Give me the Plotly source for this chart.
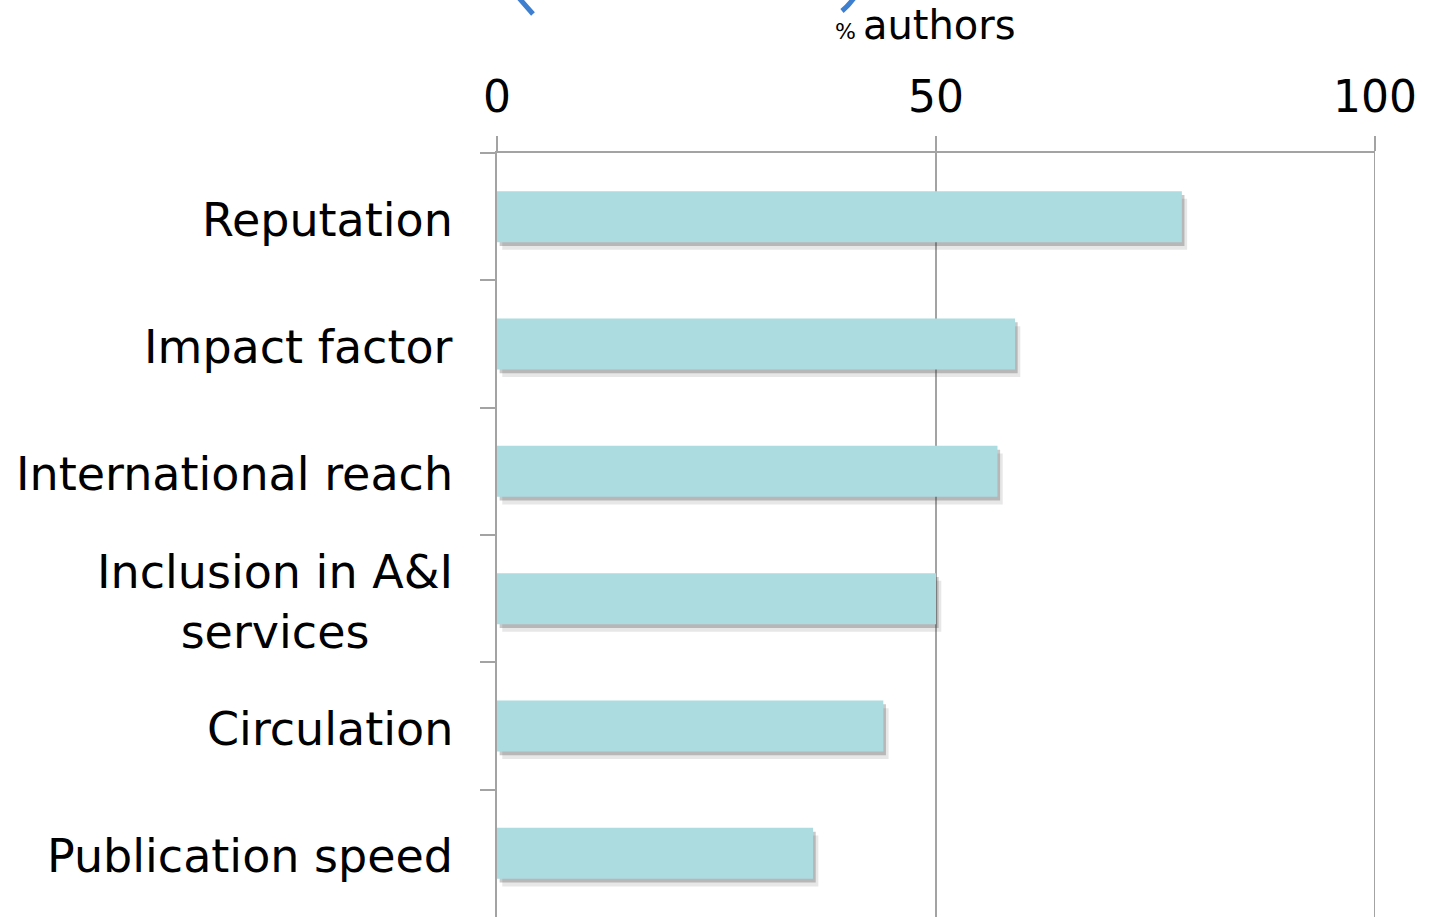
import plotly.graph_objects as go

# Survey: reasons authors choose a journal (% of authors)
categories = [
    "Reputation",
    "Impact factor",
    "International reach",
    "Inclusion in A&I<br>services",
    "Circulation",
    "Publication speed",
]
pct_authors = [78, 59, 57, 50, 44, 36]
x_ticks = [0, 50, 100]

FONT = "DejaVu Sans"
BAR = "#acdbe0"
AXIS = "#a3a3a3"

W, H = 1429, 917
L, R, T, B = 497, 54, 153, 0

fig = go.Figure()

# soft drop shadow under each bar (two faint layers)
for shift, alpha in [(0.6, 0.12), (0.3, 0.28)]:
    fig.add_trace(go.Bar(
        y=categories, x=pct_authors, base=shift, orientation="h",
        width=0.4, offset=-0.2 + shift / 10,
        marker=dict(color=f"rgba(60,60,60,{alpha})", line=dict(width=0)),
        hoverinfo="skip", showlegend=False,
    ))

fig.add_trace(go.Bar(
    y=categories, x=pct_authors, orientation="h",
    width=0.4, offset=-0.2,
    marker=dict(color=BAR, line=dict(width=0)),
    showlegend=False,
))

# category labels, right-aligned against the axis, centred line by line
for cat in categories:
    fig.add_annotation(
        x=0, xref="paper", xanchor="right", xshift=-42,
        y=cat, yref="y", yanchor="middle", yshift=-3,
        text=cat, showarrow=False, align="center",
        font=dict(family=FONT, size=46, color="#000000"),
    )

# axis title above the tick labels
fig.add_annotation(
    x=(925 - L) / (W - L - R), xref="paper", xanchor="center",
    y=1 + (T - 25) / (H - T - B), yref="paper", yanchor="middle",
    text="<span style='font-size:22px'>% </span>authors", showarrow=False,
    font=dict(family=FONT, size=40, color="#000000"),
)

# full-height gridline at the right end of the value axis
fig.add_shape(type="line", xref="x", yref="paper", x0=100, x1=100,
              y0=0, y1=1, line=dict(color=AXIS, width=2))

# blue curved strokes at the top edge
def px(xp, yp):
    return (xp - L) / (W - L - R), 1 + (T - yp) / (H - T - B)

def arc(p0, c, p1):
    a, b, d = px(*p0), px(*c), px(*p1)
    return f"M {a[0]},{a[1]} Q {b[0]},{b[1]} {d[0]},{d[1]}"

for pts in [((519, -2), (525, 5), (533, 14)), ((854, -2), (849, 5), (842, 11))]:
    fig.add_shape(type="path", xref="paper", yref="paper", path=arc(*pts),
                  line=dict(color="#3f7fcf", width=5))

fig.update_layout(
    width=W, height=H,
    margin=dict(l=L, r=R, t=T, b=B),
    paper_bgcolor="white", plot_bgcolor="white",
    barmode="overlay", bargap=0.6,
    font=dict(family=FONT, color="#000000"),
    xaxis=dict(
        side="top", range=[0, 100], tickvals=x_ticks,
        ticks="outside", ticklen=15, tickwidth=2, tickcolor=AXIS,
        showline=True, linecolor=AXIS, linewidth=2,
        showgrid=True, gridcolor=AXIS, gridwidth=1.5,
        zeroline=False, tickfont=dict(family=FONT, size=44, color="#000000"),
        ticklabelstandoff=6, fixedrange=True,
    ),
    yaxis=dict(
        categoryorder="array", categoryarray=categories, autorange="reversed",
        range=[5.5, -0.5], showticklabels=False,
        ticks="outside", tickson="boundaries", ticklen=15, tickwidth=2, tickcolor=AXIS,
        showline=True, linecolor=AXIS, linewidth=2,
        showgrid=False, zeroline=False, fixedrange=True,
    ),
)

fig.write_html("out.html")
